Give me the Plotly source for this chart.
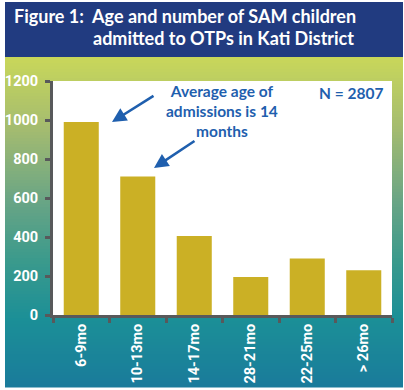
import plotly.graph_objects as go

categories = ["6-9mo", "10-13mo", "14-17mo", "28-21mo", "22-25mo", "> 26mo"]
values = [990, 710, 405, 195, 290, 230]
y_ticks = [0, 200, 400, 600, 800, 1000, 1200]

W, H = 404, 390
L, R, T, B = 53, 392, 81, 315

def px(x):
    return (x - L) / (R - L)

def py(y):
    return (B - y) / (B - T)

def hexmix(c1, c2, t):
    a = [int(c1[i:i + 2], 16) for i in (1, 3, 5)]
    b = [int(c2[i:i + 2], 16) for i in (1, 3, 5)]
    return "#%02x%02x%02x" % tuple(round(a[k] + (b[k] - a[k]) * t) for k in range(3))

stops = [(57, "#c9d75a"), (130, "#a3bb70"), (200, "#6aa585"), (260, "#3b9a8c"),
         (320, "#1b8f97"), (387, "#1a7b9b")]

def grad(y):
    for (y0, c0), (y1, c1) in zip(stops, stops[1:]):
        if y <= y1:
            return hexmix(c0, c1, (y - y0) / (y1 - y0))
    return stops[-1][1]

shapes = []
y = 57
step = 3
while y < 387:
    y2 = min(y + step, 387)
    shapes.append(dict(type="rect", xref="paper", yref="paper", layer="below",
                       x0=px(5), x1=px(403), y0=py(y2 + 0.5), y1=py(y),
                       fillcolor=grad(y + step / 2), line=dict(width=0)))
    y = y2
# title band
shapes.append(dict(type="rect", xref="paper", yref="paper", layer="below",
                   x0=px(5), x1=px(403), y0=py(57), y1=py(2),
                   fillcolor="#213b80", line=dict(width=0)))
# white plot area
shapes.append(dict(type="rect", xref="paper", yref="paper", layer="below",
                   x0=0, x1=1, y0=0, y1=1, fillcolor="white", line=dict(width=0)))

fig = go.Figure(go.Bar(x=categories, y=values, marker=dict(color="#cbb025", line=dict(width=0)),
                       hoverinfo="skip"))

blue = "#1f5fae"
annots = [
    dict(text="Figure 1:  Age and number of SAM children", x=px(12), y=py(16), xanchor="left",
         yanchor="middle", font=dict(family="Lato", size=18, color="white", weight="bold")),
    dict(text="admitted to OTPs in Kati District", x=px(91), y=py(38), xanchor="left",
         yanchor="middle", font=dict(family="Lato", size=18, color="white", weight="bold")),
    dict(text="Average age of<br>admissions is 14<br>months", x=px(222), y=py(111), xanchor="center",
         yanchor="middle", align="center",
         font=dict(family="Lato", size=15.5, color=blue, weight="bold")),
    dict(text="N = 2807", x=px(351), y=py(93), xanchor="center", yanchor="middle",
         font=dict(family="Lato", size=15.5, color=blue, weight="bold")),
    dict(text="", x=px(112), y=py(122), showarrow=True, ax=43, ay=-27, arrowhead=2,
         arrowsize=1.1, arrowwidth=2.6, arrowcolor=blue, standoff=0, startstandoff=0),
    dict(text="", x=px(154), y=py(168), showarrow=True, ax=42, ay=-28, arrowhead=2,
         arrowsize=1.1, arrowwidth=2.6, arrowcolor=blue, standoff=0, startstandoff=0),
]
for a in annots:
    a.setdefault("xref", "paper")
    a.setdefault("yref", "paper")
    a.setdefault("showarrow", False)

axis_gray = "#58595b"
tickfont = dict(family="Roboto", size=14.5, color="white", weight="bold")

fig.update_layout(
    width=W, height=H,
    margin=dict(l=L, r=W - R, t=T, b=H - B, pad=0, autoexpand=False),
    paper_bgcolor="white", plot_bgcolor="white",
    bargap=0.38, showlegend=False,
    shapes=shapes, annotations=annots,
    xaxis=dict(type="category", showline=True, linecolor=axis_gray, linewidth=3,
               ticks="outside", tickson="boundaries", ticklen=5, tickwidth=3, tickcolor=axis_gray,
               tickangle=-90, tickfont=tickfont, showgrid=False, zeroline=False, fixedrange=True,
               automargin=False),
    yaxis=dict(range=[0, 1200], tickvals=y_ticks, showline=True, linecolor=axis_gray, linewidth=3,
               ticks="outside", ticklen=5, tickwidth=3, tickcolor=axis_gray,
               tickfont=tickfont, showgrid=False, zeroline=False, fixedrange=True,
               ticklabelstandoff=4, automargin=False),
)

post = ("document.body.style.margin='0';document.body.style.overflow='hidden';"
        "var d=document.getElementById('{plot_id}');d.style.position='fixed';"
        "d.style.left='0px';d.style.top='0px';window.scrollTo(0,0);")
fig.write_html("out.html", config={"displayModeBar": False}, post_script=post)
